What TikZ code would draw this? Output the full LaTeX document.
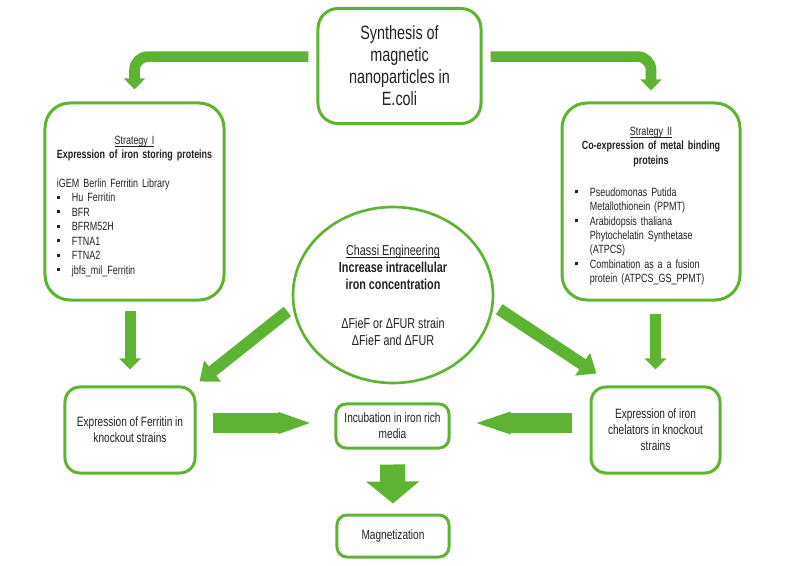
\documentclass[tikz,border=0pt]{standalone}
\usepackage{fontspec}
\setmainfont{Liberation Sans}[FakeStretch=0.75]
\usetikzlibrary{arrows.meta,shapes.geometric}

\definecolor{leaf}{RGB}{94,180,50}
\definecolor{ink}{RGB}{34,34,34}
\newcommand{\sq}{\makebox[12.8pt][l]{\rule[2.5pt]{2.7pt}{2.7pt}}}
\newcommand{\ind}{\hspace*{12.8pt}}
\newcommand{\headline}[1]{\makebox[\linewidth][c]{#1}}
\newcommand{\uline}[1]{\setbox0\hbox{#1}\rlap{\rule[-2pt]{\wd0}{0.6pt}}\box0}

\begin{document}
\begin{tikzpicture}[x=0.03cm, y=-0.03cm,
	card/.style={draw=leaf, line width=0.09cm, fill=white, text=ink, inner sep=0pt, rounded corners=#1},
	card/.default=0.45cm,
	bendarrow/.style={leaf, line width=0.32cm, rounded corners=0.4cm, -{Triangle[width=0.62cm,length=0.33cm]}},
	fallarrow/.style={leaf, line width=0.33cm, -{Triangle[width=0.63cm,length=0.33cm]}},
	slantarrow/.style={leaf, line width=0.36cm, -{Triangle[width=0.78cm,length=0.5cm]}},
	wedgearrow/.style={leaf, line width=0.57cm, -{Triangle[width=0.57cm,length=#1]}},
	bigarrow/.style={leaf, line width=0.75cm, -{Triangle[width=1.56cm,length=0.66cm]}}]
\path[use as bounding box, fill=white] (0,0) rectangle (800,566);

\node[card=0.6cm, minimum width=4.89cm, minimum height=3.45cm, align=center,
	font=\fontsize{16.4pt}{18.8pt}\selectfont] (synth) at (399.5,66)
	{Synthesis of\\magnetic\\nanoparticles in\\E.coli};

\node[card=0.75cm, minimum width=5.37cm, minimum height=5.91cm, text width=4.65cm,
	font=\fontsize{10.2pt}{12.3pt}\selectfont] (strat1) at (134.5,201.5)
	{\noindent\headline{\rule{0pt}{15pt}\uline{Strategy I}}\\
	\headline{\textbf{Expression of iron storing proteins}}\par\vspace{12.5pt}
	\raggedright iGEM Berlin Ferritin Library\\
	\sq Hu Ferritin\\
	\sq BFR\\
	\sq BFRM52H\\
	\sq FTNA1\\
	\sq FTNA2\\
	\sq jbfs\_mil\_Ferritin\par};

\node[card=0.75cm, minimum width=5.34cm, minimum height=5.91cm, text width=4.56cm,
	font=\fontsize{10.2pt}{12.3pt}\selectfont] (strat2) at (651,201.5)
	{\noindent\headline{\rule{0pt}{15pt}\uline{Strategy II}}\\
	\headline{\textbf{Co-expression of metal binding}}\\
	\headline{\textbf{proteins}}\par\vspace{15pt}
	\raggedright\sq Pseudomonas Putida\\
	\ind Metallothionein (PPMT)\\
	\sq Arabidopsis thaliana\\
	\ind Phytochelatin Synthetase\\
	\ind (ATPCS)\\
	\sq Combination as a a fusion\\
	\ind protein (ATPCS\_GS\_PPMT)\par};

\node[ellipse, draw=leaf, line width=0.08cm, fill=white, text=ink, inner sep=0pt,
	minimum width=6cm, minimum height=5.28cm, align=center,
	font=\fontsize{12.3pt}{14.5pt}\selectfont] (chassi) at (393,295)
	{\uline{Chassi Engineering}\\
	\textbf{Increase intracellular}\\
	\textbf{iron concentration}\\[18.8pt]
	ΔFieF or ΔFUR strain\\
	ΔFieF and ΔFUR};

\node[card, minimum width=3.9cm, minimum height=2.58cm, align=center,
	font=\fontsize{11.5pt}{13.7pt}\selectfont] (ferr) at (130,430)
	{Expression of Ferritin in\\knockout strains};
\node[card, minimum width=3.87cm, minimum height=2.58cm, align=center,
	font=\fontsize{11.5pt}{13.7pt}\selectfont] (chel) at (655.5,430)
	{Expression of iron\\chelators in knockout\\strains};
\node[card=0.3cm, minimum width=3.39cm, minimum height=1.32cm, align=center,
	font=\fontsize{11.5pt}{13.7pt}\selectfont] (incub) at (392.5,426)
	{Incubation in iron rich\\media};
\node[card=0.3cm, minimum width=3.36cm, minimum height=1.26cm, align=center,
	font=\fontsize{11.5pt}{13.7pt}\selectfont] (magn) at (393,536)
	{Magnetization};

\draw[bendarrow, shorten <=0.24cm, shorten >=0.36cm] ([yshift=0.28cm]synth.west) -| (strat1.north);
\draw[bendarrow, shorten <=0.24cm, shorten >=0.33cm] ([yshift=0.28cm]synth.east) -| (strat2.north);

\draw[fallarrow, shorten <=0.27cm, shorten >=0.48cm] (ferr.north |- strat1.south) -- (ferr.north);
\draw[fallarrow, shorten <=0.36cm, shorten >=0.48cm] (chel.north |- strat2.south) -- (chel.north);

\draw[slantarrow, shorten <=0.2cm] (chassi.187) -- ([xshift=0.09cm,yshift=0.12cm]ferr.north east);
\draw[slantarrow, shorten <=0.2cm] (chassi.354) -- ([xshift=0.21cm,yshift=0.36cm]chel.north west);

\draw[wedgearrow=1.05cm, shorten <=0.48cm, shorten >=0.63cm] ([yshift=0.09cm]incub.west -| ferr.east) -- ([yshift=0.09cm]incub.west);
\draw[wedgearrow=1.2cm, shorten <=0.54cm, shorten >=0.6cm] ([yshift=0.09cm]incub.east -| chel.west) -- ([yshift=0.09cm]incub.east);

\draw[bigarrow, shorten <=0.45cm, shorten >=0.3cm] (incub.south) -- (magn.north);
\end{tikzpicture}
\end{document}
